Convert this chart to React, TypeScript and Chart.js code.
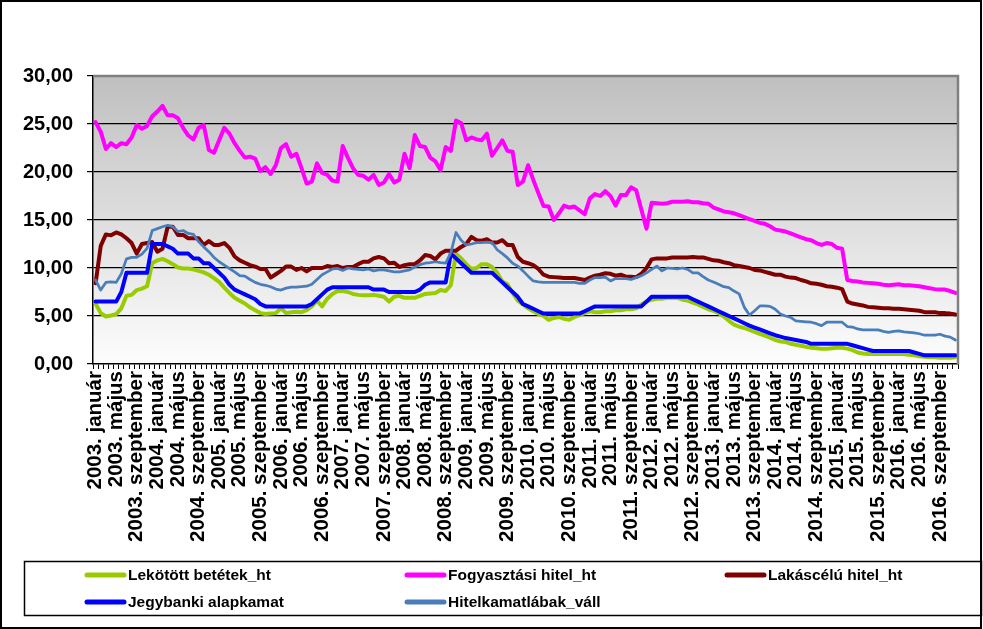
import { useEffect, useRef } from 'react';
import { Chart, registerables } from 'chart.js';

Chart.register(...registerables);

const years = [2003, 2004, 2005, 2006, 2007, 2008, 2009, 2010, 2011, 2012, 2013, 2014, 2015, 2016];
const monthNames = ['január', 'február', 'március', 'április', 'május', 'június', 'július', 'augusztus', 'szeptember', 'október', 'november', 'december'];
const categories = years.flatMap((y) => monthNames.map((m) => `${y}. ${m}`));
const yTickValues = [0, 5, 10, 15, 20, 25, 30];

const seriesLabels = ['Lekötött betétek_ht', 'Fogyasztási hitel_ht', 'Lakáscélú hitel_ht', 'Jegybanki alapkamat', 'Hitelkamatlábak_váll'];

const lekotottBetetek = [
  6.3, 5.3, 4.95, 5.05, 5.2, 5.8, 7.1, 7.2, 7.7, 7.85, 8.1, 10.5,
  10.8, 10.95, 10.7, 10.4, 10.05, 9.95, 9.95, 9.85, 9.7, 9.55, 9.3, 8.95,
  8.55, 7.95, 7.4, 6.9, 6.6, 6.3, 5.9, 5.6, 5.3, 5.2, 5.25, 5.3,
  5.8, 5.3, 5.4, 5.45, 5.4, 5.6, 6.0, 6.6, 6.0, 6.8, 7.3, 7.6,
  7.6, 7.5, 7.3, 7.2, 7.15, 7.15, 7.2, 7.1, 7.0, 6.5, 7.0, 7.1,
  6.9, 6.9, 6.9, 7.1, 7.3, 7.35, 7.4, 7.7, 7.6, 8.2, 11.5, 11.0,
  10.4, 9.9, 10.0, 10.4, 10.4, 10.1, 9.5, 8.6, 8.3, 7.4, 6.6, 6.2,
  5.8, 5.5, 5.2, 5.0, 4.6, 4.8, 4.9, 4.7, 4.6, 4.9, 5.1, 5.3,
  5.5, 5.4, 5.4, 5.5, 5.5, 5.6, 5.6, 5.7, 5.7, 5.8, 6.2, 6.5,
  6.7, 6.8, 6.8, 6.9, 6.9, 6.9, 6.7, 6.6, 6.4, 6.2, 5.95, 5.7,
  5.55, 5.3, 4.95, 4.5, 4.1, 3.9, 3.75, 3.55, 3.35, 3.15, 2.95, 2.75,
  2.5, 2.35, 2.3, 2.1, 2.0, 1.9, 1.8, 1.7, 1.65, 1.6, 1.6, 1.65,
  1.7, 1.7, 1.6, 1.45, 1.2, 1.1, 1.05, 1.05, 1.05, 1.05, 1.05, 1.05,
  1.05, 1.05, 0.95, 0.9, 0.8, 0.75, 0.7, 0.7, 0.65, 0.65, 0.65, 0.7,
];

const fogyasztasiHitel = [
  25.2, 24.2, 22.4, 23.0, 22.6, 23.0, 22.9, 23.6, 24.9, 24.5, 24.8, 25.8,
  26.3, 26.9, 25.9, 25.9, 25.6, 24.6, 23.8, 23.4, 24.6, 24.9, 22.3, 22.0,
  23.3, 24.6, 24.0, 23.0, 22.2, 21.5, 21.6, 21.4, 20.1, 20.5, 19.8, 20.7,
  22.5, 22.9, 21.6, 21.9, 20.4, 18.8, 19.0, 20.9, 19.9, 19.7, 19.1, 19.0,
  22.7, 21.5, 20.4, 19.7, 19.6, 19.2, 19.7, 18.65, 18.9, 19.8, 18.9, 19.2,
  21.9, 20.4, 23.85, 22.7, 22.6, 21.5, 21.1, 20.2, 22.6, 22.2, 25.35, 25.1,
  23.3, 23.6, 23.4, 23.3, 24.0, 21.7, 22.5, 23.3, 22.2, 22.1, 18.65, 19.0,
  20.7, 19.2, 17.8, 16.46, 16.4, 15.0, 15.7, 16.5, 16.3, 16.4, 16.0, 15.6,
  17.25, 17.7, 17.5, 18.0, 17.5, 16.5, 17.6, 17.6, 18.4, 18.1, 16.1, 14.1,
  16.8, 16.75, 16.7, 16.75, 16.9, 16.9, 16.9, 16.95, 16.85, 16.85, 16.75, 16.7,
  16.3, 16.1, 15.9, 15.8, 15.7, 15.5, 15.3, 15.1, 14.9, 14.7, 14.6, 14.35,
  14.0, 13.9, 13.8, 13.6, 13.4, 13.2, 13.0, 12.9, 12.6, 12.4, 12.6, 12.5,
  12.1, 12.0, 8.75, 8.65, 8.6, 8.5, 8.45, 8.4, 8.35, 8.25, 8.2, 8.25,
  8.3, 8.2, 8.2, 8.15, 8.1, 8.0, 7.9, 7.8, 7.75, 7.75, 7.6, 7.4,
];

const lakascéluHitel = [
  8.4, 12.3, 13.5, 13.4, 13.7, 13.5, 13.1, 12.6, 11.5, 12.5, 12.6, 12.7,
  11.7, 12.0, 14.3, 14.3, 13.45, 13.45, 13.1, 13.1, 13.1, 12.4, 12.8, 12.4,
  12.4, 12.6, 12.1, 11.2, 10.8, 10.55, 10.3, 10.15, 9.9, 9.9, 9.0, 9.35,
  9.7, 10.15, 10.15, 9.8, 10.0, 9.65, 10.0, 10.0, 10.0, 10.2, 10.1, 10.2,
  10.0, 10.1, 10.1, 10.4, 10.65, 10.65, 11.0, 11.15, 11.0, 10.5, 10.55, 10.1,
  10.3, 10.4, 10.4, 10.8, 11.35, 11.25, 10.9, 11.5, 11.8, 11.8, 11.8, 12.2,
  12.5, 13.25, 12.9, 12.85, 13.0, 12.65, 12.65, 12.9, 12.4, 12.4, 11.15, 10.65,
  10.5, 10.3, 9.9, 9.3, 9.1, 9.05, 9.0, 8.95, 8.95, 8.95, 8.85, 8.75,
  9.0, 9.2, 9.3, 9.45, 9.4, 9.2, 9.3, 9.1, 9.1, 9.05, 9.4, 10.0,
  10.9, 11.0, 11.0, 11.0, 11.1, 11.1, 11.1, 11.1, 11.15, 11.1, 11.1, 10.95,
  10.8, 10.75, 10.6, 10.5, 10.3, 10.2, 10.1, 10.0, 9.8, 9.75, 9.6, 9.45,
  9.3, 9.3, 9.1, 9.0, 8.95, 8.75, 8.6, 8.4, 8.35, 8.25, 8.1, 8.05,
  7.95, 7.8, 6.5, 6.3, 6.2, 6.1, 5.95, 5.9, 5.85, 5.8, 5.8, 5.75,
  5.75, 5.7, 5.65, 5.6, 5.55, 5.4, 5.4, 5.4, 5.3, 5.3, 5.25, 5.15,
];

const jegybankiAlapkamat = [
  6.5, 6.5, 6.5, 6.5, 6.5, 7.5, 9.5, 9.5, 9.5, 9.5, 9.5, 12.5,
  12.5, 12.5, 12.25, 12.0, 11.5, 11.5, 11.5, 11.0, 11.0, 10.5, 10.5, 10.0,
  9.5, 9.0, 8.25, 7.75, 7.5, 7.25, 7.0, 6.75, 6.25, 6.0, 6.0, 6.0,
  6.0, 6.0, 6.0, 6.0, 6.0, 6.0, 6.25, 6.75, 7.25, 7.75, 8.0, 8.0,
  8.0, 8.0, 8.0, 8.0, 8.0, 8.0, 7.75, 7.75, 7.75, 7.5, 7.5, 7.5,
  7.5, 7.5, 7.5, 7.75, 8.25, 8.5, 8.5, 8.5, 8.5, 11.5, 11.0, 10.5,
  10.0, 9.5, 9.5, 9.5, 9.5, 9.5, 9.0, 8.5, 8.0, 7.5, 7.0, 6.25,
  6.0, 5.75, 5.5, 5.25, 5.25, 5.25, 5.25, 5.25, 5.25, 5.25, 5.25, 5.5,
  5.75, 6.0, 6.0, 6.0, 6.0, 6.0, 6.0, 6.0, 6.0, 6.0, 6.0, 6.5,
  7.0, 7.0, 7.0, 7.0, 7.0, 7.0, 7.0, 7.0, 6.75, 6.5, 6.25, 6.0,
  5.75, 5.5, 5.25, 5.0, 4.75, 4.5, 4.25, 4.0, 3.8, 3.6, 3.4, 3.2,
  3.0, 2.85, 2.7, 2.6, 2.5, 2.4, 2.3, 2.1, 2.1, 2.1, 2.1, 2.1,
  2.1, 2.1, 2.1, 1.95, 1.8, 1.65, 1.5, 1.35, 1.35, 1.35, 1.35, 1.35,
  1.35, 1.35, 1.35, 1.2, 1.05, 0.9, 0.9, 0.9, 0.9, 0.9, 0.9, 0.9,
];

const hitelkamatlabakVall = [
  8.75, 7.7, 8.5, 8.55, 8.5, 9.4, 10.95, 11.1, 11.1, 11.45, 12.05, 13.9,
  14.1, 14.3, 14.45, 14.3, 13.8, 13.9, 13.6, 13.5, 12.75, 12.2, 11.7, 11.1,
  10.65, 10.3, 9.95, 9.6, 9.2, 9.15, 8.8, 8.5, 8.3, 8.2, 8.05, 7.8,
  7.7, 7.9, 8.0, 8.0, 8.05, 8.1, 8.3, 8.8, 9.3, 9.6, 9.9, 9.95,
  9.75, 10.0, 9.9, 9.85, 9.8, 9.9, 9.7, 9.8, 9.8, 9.7, 9.6, 9.6,
  9.7, 9.8, 10.1, 10.35, 10.5, 10.55, 10.65, 10.55, 10.5, 11.6, 13.7, 12.9,
  12.4, 12.5, 12.65, 12.65, 12.7, 12.65, 11.9, 11.5, 11.05, 10.5, 10.2, 9.7,
  9.15, 8.65, 8.55, 8.5, 8.5, 8.5, 8.5, 8.5, 8.5, 8.5, 8.4, 8.4,
  8.75, 9.0, 9.0, 9.05, 8.65, 8.9, 8.9, 8.9, 8.8, 9.0, 9.2, 9.5,
  9.85, 10.2, 9.7, 10.0, 9.95, 9.9, 10.0, 9.85, 9.5, 9.5, 9.1, 8.75,
  8.55, 8.3, 8.05, 7.95, 7.6, 7.3, 5.9, 5.1, 5.55, 6.05, 6.05, 6.0,
  5.7, 5.2, 5.0, 4.85, 4.5, 4.45, 4.4, 4.35, 4.2, 4.0, 4.35, 4.35,
  4.35, 4.35, 3.9, 3.85, 3.65, 3.55, 3.55, 3.55, 3.55, 3.4, 3.3, 3.4,
  3.45, 3.35, 3.3, 3.25, 3.15, 3.0, 3.0, 3.0, 3.1, 2.9, 2.8, 2.5,
];

const seriesData = [lekotottBetetek, fogyasztasiHitel, lakascéluHitel, jegybankiAlapkamat, hitelkamatlabakVall];
const seriesColors = ['#99CC00', '#FF00FF', '#800000', '#0000FF', '#4A7EBB'];
const seriesWidths = [4, 4, 4, 4, 2.75];

const FONT = 'Arial, "Liberation Sans", sans-serif';

const decorPlugin = {
  id: 'decor',
  beforeDraw(chart: any) {
    const { ctx, chartArea: a } = chart;
    ctx.save();
    ctx.fillStyle = '#ffffff';
    ctx.fillRect(0, 0, chart.width, chart.height);
    const g = ctx.createLinearGradient(0, a.top, 0, a.bottom);
    g.addColorStop(0, '#bfbfbf');
    g.addColorStop(1, '#fdfdfd');
    ctx.fillStyle = g;
    ctx.fillRect(a.left, a.top, a.right - a.left, a.bottom - a.top);
    ctx.restore();
  },
  afterDraw(chart: any) {
    const { ctx, chartArea: a } = chart;
    ctx.save();
    // plot area gray border (top & right)
    ctx.strokeStyle = '#808080';
    ctx.lineWidth = 2.5;
    ctx.beginPath();
    ctx.moveTo(a.left, a.top);
    ctx.lineTo(a.right, a.top);
    ctx.lineTo(a.right, a.bottom);
    ctx.stroke();

    // outer frame
    ctx.strokeStyle = '#000';
    ctx.lineWidth = 2;
    ctx.strokeRect(1, 1, chart.width - 3, chart.height - 2);

    // legend box
    ctx.lineWidth = 1.5;
    ctx.strokeRect(24.5, 561.5, chart.width - 26, 54);

    const slots = [
      [87, 575], [407, 575], [727, 575],
      [87, 602], [407, 602],
    ];
    ctx.font = `bold 15.5px ${FONT}`;
    ctx.textBaseline = 'middle';
    ctx.textAlign = 'left';
    chart.data.datasets.forEach((ds: any, i: number) => {
      const [x, y] = slots[i];
      ctx.strokeStyle = ds.borderColor;
      ctx.lineWidth = 5;
      ctx.lineCap = 'round';
      ctx.beginPath();
      ctx.moveTo(x, y);
      ctx.lineTo(x + 37, y);
      ctx.stroke();
      ctx.fillStyle = '#000';
      ctx.fillText(ds.label, x + 41, y + 1);
    });
    ctx.restore();
  },
};

export default function App() {
  const canvasRef = useRef<HTMLCanvasElement | null>(null);

  useEffect(() => {
    const canvas = canvasRef.current;
    if (!canvas) return;
    const chart = new Chart(canvas, {
      type: 'line',
      data: {
        labels: categories,
        datasets: seriesLabels.map((label, i) => ({
          label,
          data: seriesData[i],
          borderColor: seriesColors[i],
          backgroundColor: seriesColors[i],
          borderWidth: seriesWidths[i],
          pointRadius: 0,
          tension: 0,
          fill: false,
          borderJoinStyle: 'round' as const,
          borderCapStyle: 'round' as const,
          order: seriesLabels.length - 1 - i,
        })),
      },
      options: {
        animation: false,
        responsive: false,
        devicePixelRatio: 1,
        events: [],
        layout: { padding: { left: 0, top: 76, right: 25, bottom: 0 } },
        plugins: {
          legend: { display: false },
          tooltip: { enabled: false },
          title: { display: false },
        },
        scales: {
          x: {
            type: 'category',
            offset: true,
            grid: {
              offset: true,
              drawOnChartArea: false,
              drawTicks: true,
              tickLength: 5,
              tickColor: '#000',
              tickWidth: 1,
            },
            border: { display: true, color: '#000', width: 1.5 },
            ticks: {
              autoSkip: false,
              minRotation: 90,
              maxRotation: 90,
              padding: 2,
              color: '#000',
              font: { family: FONT, size: 20.5, weight: 'bold' },
              callback: (_v: any, i: number) => (i % 4 === 0 ? categories[i] : ''),
            },
            afterFit: (s: any) => {
              s.height = 265;
            },
          },
          y: {
            min: yTickValues[0],
            max: yTickValues[yTickValues.length - 1],
            afterBuildTicks: (s: any) => {
              s.ticks = yTickValues.map((v) => ({ value: v }));
            },
            grid: {
              color: (c: any) => (c.tick && (c.tick.value === 0 || c.tick.value === 30) ? 'rgba(0,0,0,0)' : '#000'),
              lineWidth: 1.2,
              tickColor: '#000',
              tickLength: 6,
              tickWidth: 1.2,
            },
            border: { display: true, color: '#000', width: 1.5 },
            ticks: {
              padding: 14,
              color: '#000',
              font: { family: FONT, size: 20, weight: 'bold' },
              callback: (v: any) => Number(v).toFixed(2).replace('.', ','),
            },
            afterFit: (s: any) => {
              s.width = 93;
            },
          },
        },
      },
      plugins: [decorPlugin],
    });
    return () => chart.destroy();
  }, []);

  return (
    <div style={{ position: 'fixed', left: 0, top: 0, width: 983, height: 629, background: '#fff' }}>
      <canvas ref={canvasRef} width={983} height={629} style={{ display: 'block', width: 983, height: 629 }} />
    </div>
  );
}
